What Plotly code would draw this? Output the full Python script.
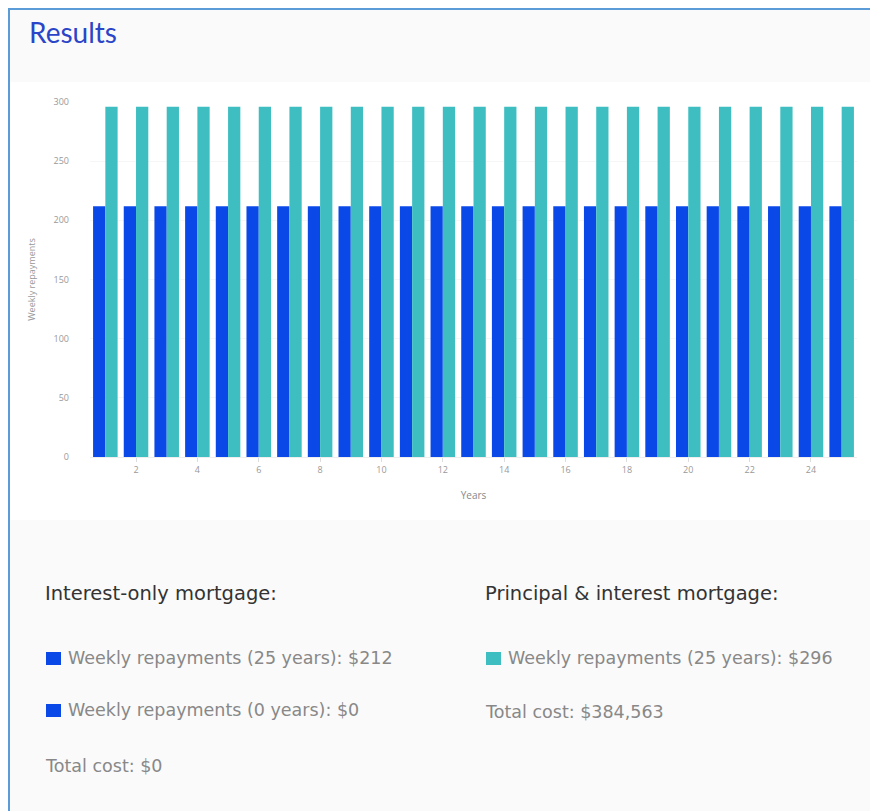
import plotly.graph_objects as go

years = list(range(1, 26))
interest_only = [212] * 25
principal_interest = [296] * 25
y_ticks = [0, 50, 100, 150, 200, 250, 300]
x_ticks = [2, 4, 6, 8, 10, 12, 14, 16, 18, 20, 22, 24]

BLUE = "#0b48e8"
TEAL = "#3fbec1"

fig = go.Figure()
fig.add_trace(go.Bar(x=years, y=interest_only, name="Interest-only", marker_color=BLUE, marker_line_width=0))
fig.add_trace(go.Bar(x=years, y=principal_interest, name="Principal & interest", marker_color=TEAL, marker_line_width=0))

# page body has an 8px margin; figure origin is at screen (8, 8)
OFF = 8
W, H = 870, 803
PL, PR, PT, PB = 90, 857, 102, 457  # plot area in screen pixels
fig.update_layout(
    width=W, height=H,
    paper_bgcolor="#fafafa", plot_bgcolor="white",
    margin=dict(l=PL - OFF, r=W - (PR - OFF), t=PT - OFF, b=H - (PB - OFF)),
    barmode="group", bargap=0.2, bargroupgap=0,
    showlegend=False,
    font=dict(family="Open Sans", color="#999"),
)
fig.update_xaxes(range=[0.5, 25.5], tickvals=x_ticks, ticks="outside", ticklen=4, tickcolor="#ddd",
                 tickfont=dict(size=9, color="#999"), showgrid=False, showline=True, linecolor="#eee",
                 title=dict(text="Years", font=dict(size=10, color="#888"), standoff=17), zeroline=False)
fig.update_yaxes(range=[0, 300], tickvals=y_ticks, tickfont=dict(size=9, color="#999"), showgrid=True,
                 gridcolor="#f6f6f6", zeroline=False, ticklabelstandoff=20,
                 title=dict(text="Weekly repayments", font=dict(size=9, color="#999"), standoff=16))

def px(sx): return (sx - PL) / (PR - PL)
def py(sy): return (PB - sy) / (PB - PT)

shapes = []
# white chart card
shapes.append(dict(type="rect", xref="paper", yref="paper", x0=px(10), x1=px(890), y0=py(520), y1=py(82),
                   fillcolor="white", line_width=0, layer="below"))
# border lines
shapes.append(dict(type="line", xref="paper", yref="paper", x0=px(8), x1=px(890), y0=py(9), y1=py(9),
                   line=dict(color="#5b9bd8", width=2)))
shapes.append(dict(type="line", xref="paper", yref="paper", x0=px(9), x1=px(9), y0=py(9), y1=py(830),
                   line=dict(color="#5b9bd8", width=2)))
# legend squares
for (x0, y0, c) in [(46, 652, BLUE), (46, 704, BLUE), (486, 652, TEAL)]:
    shapes.append(dict(type="rect", xref="paper", yref="paper", x0=px(x0), x1=px(x0 + 15),
                       y0=py(y0 + 13), y1=py(y0), fillcolor=c, line_width=0))
fig.update_layout(shapes=shapes)

def ann(text, x, y, size, color, family="DejaVu Sans"):
    fig.add_annotation(text=text, xref="paper", yref="paper", x=px(x), y=py(y), xanchor="left",
                       yanchor="middle", showarrow=False, font=dict(size=size, color=color, family=family))

ann("Results", 27, 32, 28, "#2b45c8", "Lato")
ann("Interest-only mortgage:", 43, 593, 19.5, "#333")
ann("Principal & interest mortgage:", 483, 593, 19.5, "#333")
ann("Weekly repayments (25 years): $212", 66, 658, 17.5, "#888")
ann("Weekly repayments (0 years): $0", 66, 710, 17.5, "#888")
ann("Total cost: $0", 43, 766, 17.5, "#888")
ann("Weekly repayments (25 years): $296", 506, 658, 17.5, "#888")
ann("Total cost: $384,563", 483, 712, 17.5, "#888")

fig.write_html("out.html")
